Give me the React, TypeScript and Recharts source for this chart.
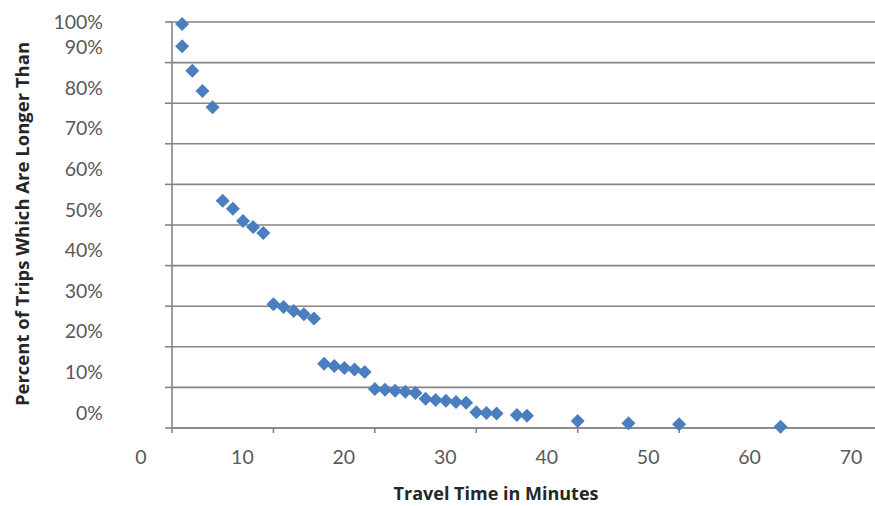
import { ScatterChart, Scatter, XAxis, YAxis, ZAxis, CartesianGrid, Label } from 'recharts';

// travel time (minutes) and share of trips that are longer (%)
const minutes = [
  1, 1, 2, 3, 4,
  5, 6, 7, 8, 9,
  10, 11, 12, 13, 14,
  15, 16, 17, 18, 19,
  20, 21, 22, 23, 24,
  25, 26, 27, 28, 29,
  30, 31, 32, 34, 35,
  40, 45, 50, 60,
];
const percentLonger = [
  99.5, 94, 88, 83, 79,
  56, 54, 51, 49.5, 48,
  30.5, 29.8, 28.8, 28, 27,
  15.8, 15.3, 14.8, 14.4, 13.8,
  9.6, 9.4, 9.2, 8.9, 8.6,
  7.2, 6.9, 6.7, 6.4, 6.2,
  3.9, 3.7, 3.6, 3.2, 3.0,
  1.7, 1.2, 0.9, 0.3,
];
const xTicks = [0, 10, 20, 30, 40, 50, 60, 70];
const yTicks = [0, 10, 20, 30, 40, 50, 60, 70, 80, 90, 100];

const data = minutes.map((m, i) => ({ m, p: percentLonger[i] }));

const gray = '#858585';
const labelColor = '#595959';
const font = 'Lato, "Open Sans", sans-serif';
const titleFont = '"Open Sans", sans-serif';

function Diamond(props: any) {
  const { cx, cy } = props;
  const r = 7;
  return (
    <polygon
      points={`${cx},${cy - r} ${cx + r},${cy} ${cx},${cy + r} ${cx - r},${cy}`}
      fill="#4a7ebf"
    />
  );
}

function YTick(props: any) {
  const { x, y, payload } = props;
  // labels sit above their gridlines in the original, except the top one
  const dy = payload.value === 100 ? -1 : -16;
  return (
    <text x={x - 60} y={y + dy} textAnchor="end" dominantBaseline="central"
      fontSize={19.5} fill={labelColor} fontFamily={font}>
      {payload.value}%
    </text>
  );
}

function XTick(props: any) {
  const { x, y, payload } = props;
  return (
    <text x={x - 31} y={y + 21} textAnchor="middle" dominantBaseline="central"
      fontSize={19.5} fill={labelColor} fontFamily={font}>
      {payload.value}
    </text>
  );
}

export default function App() {
  return (
    <div style={{ position: 'fixed', left: 0, top: 0, width: 875, height: 506, overflow: 'hidden', background: '#fff' }}>
      <ScatterChart width={892} height={506} margin={{ top: 22, right: 10, bottom: 0, left: 0 }}>
        <CartesianGrid vertical={false} stroke={gray} strokeWidth={1.6} />
        <XAxis
          type="number"
          dataKey="m"
          domain={[0, 70]}
          ticks={xTicks}
          height={78}
          tickSize={5}
          stroke={gray}
          strokeWidth={1.6}
          tick={<XTick />}
          interval={0}
        >
          <Label
            content={({ viewBox }: any) => (
              <text x={viewBox.x + viewBox.width / 2 - 31} y={viewBox.y + 65} textAnchor="middle"
                dominantBaseline="central" fontSize={18} fontWeight="bold" fill="#262626" fontFamily={titleFont}>
                Travel Time in Minutes
              </text>
            )}
          />
        </XAxis>
        <YAxis
          type="number"
          dataKey="p"
          domain={[0, 100]}
          ticks={yTicks}
          width={172}
          tickSize={7}
          stroke={gray}
          strokeWidth={1.6}
          tick={<YTick />}
          interval={0}
        >
          <Label
            content={({ viewBox }: any) => {
              const cx = viewBox.x + 21;
              const cy = viewBox.y + viewBox.height / 2 - 1;
              return (
                <text x={cx} y={cy} transform={`rotate(-90 ${cx} ${cy})`} textAnchor="middle"
                  dominantBaseline="central" fontSize={18.5} fontWeight="bold" fill="#262626" fontFamily={titleFont}>
                  Percent of Trips Which Are Longer Than
                </text>
              );
            }}
          />
        </YAxis>
        <ZAxis range={[100, 100]} />
        <Scatter data={data} shape={<Diamond />} isAnimationActive={false} />
      </ScatterChart>
    </div>
  );
}
